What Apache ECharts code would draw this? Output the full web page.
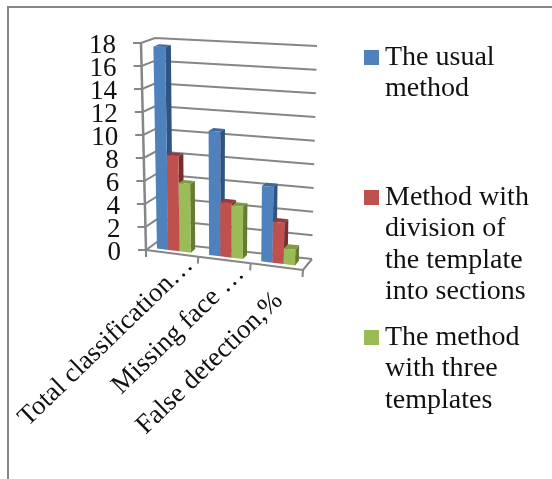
<!DOCTYPE html>
<html>
<head>
<meta charset="utf-8">
<style>html,body{margin:0;padding:0;background:#fff}#main{width:552px;height:479px}</style>
<script src="https://cdn.jsdelivr.net/npm/echarts@6/dist/echarts.min.js"></script>
</head>
<body>
<div id="main"></div>
<script>
var categories = ["Total classification…", "Missing face …", "False detection,%"];
var yTicks = [0, 2, 4, 6, 8, 10, 12, 14, 16, 18];
var usualValues = [17.6, 10.6, 6.3];
var sectionValues = [8.2, 4.6, 3.4];
var threeValues = [5.9, 4.4, 1.3];
var usualLines = ["The usual", "method"];
var sectionLines = ["Method with", "division of", "the template", "into sections"];
var threeLines = ["The method", "with three", "templates"];

var FONT = '"Liberation Serif", serif';
var GRID = {left: 146, top: 43, width: 157, height: 207};
var GRAY = "#868686";
// small hand nudges for the slanted labels
var LABEL_DX = [17, 16, 2];
var LABEL_DY = [8, 10, 30];

// corners of the chart box on screen, [front, back] x [bottom, top] x [left, right]
var box = {
    fbl: [146, 250], fbr: [303, 270], ftl: [141, 43], ftr: [307, 49],
    bbl: [157, 242], bbr: [312, 259], btl: [155, 38], btr: [317, 46]
};

function mix(a, b, t) {
    return [a[0] + (b[0] - a[0]) * t, a[1] + (b[1] - a[1]) * t];
}

// the hidden grid gives the value scale, this tilts it into the 3d box
function project(px, py, d) {
    var u = (px - GRID.left) / GRID.width;
    var v = (GRID.top + GRID.height - py) / GRID.height;
    var front = mix(mix(box.fbl, box.fbr, u), mix(box.ftl, box.ftr, u), v);
    var back = mix(mix(box.bbl, box.bbr, u), mix(box.btl, box.btr, u), v);
    return mix(front, back, d);
}

function line(pts, w) {
    return {
        type: "polyline",
        shape: {points: pts},
        style: {stroke: GRAY, lineWidth: w || 2, fill: null}
    };
}

function renderTick(params, api) {
    var c = api.coord([0, api.value(1)]);
    var py = c[1];
    var l = GRID.left, r = GRID.left + GRID.width;
    var a = project(l, py, 0), b = project(l, py, 1), e = project(r, py, 1);
    return {
        type: "group",
        children: [
            line([[a[0] - 8, a[1]], a, b, e]),
            {
                type: "text",
                style: {
                    x: a[0] - 25, y: a[1] + 3, text: String(api.value(1)),
                    align: "right", verticalAlign: "middle",
                    font: "27px " + FONT, fill: "#111"
                }
            }
        ]
    };
}

function renderCategory(params, api) {
    var i = api.value(0);
    var base = api.coord([i, 0]);
    var band = api.size([1, 0])[0];
    var t0 = project(base[0] + band / 2, base[1], 0);
    var mid = project(base[0], base[1], 0);
    var kids = [line([t0, [t0[0] - 0.5, t0[1] + 7]])];
    if (i === 0) {
        var left = project(base[0] - band / 2, base[1], 0);
        kids.push(line([left, [left[0], left[1] + 7]]));
        kids.push(line([left, t0]));
    }
    if (i === categories.length - 1) {
        var br = project(base[0] + band / 2, base[1], 1);
        kids.push(line([t0, br]));
    }
    if (i > 0) {
        kids.push(line([project(base[0] - band / 2, base[1], 0), t0]));
    }
    kids.push({
        type: "text",
        x: mid[0] + LABEL_DX[i], y: mid[1] + LABEL_DY[i],
        rotation: Math.PI * 44 / 180,
        style: {
            x: 0, y: 0, text: categories[i], align: "right", verticalAlign: "middle",
            font: "27px " + FONT, fill: "#111"
        }
    });
    return {type: "group", children: kids};
}

function renderAxisLine(params, api) {
    var top = api.coord([0, 18]), bottom = api.coord([0, 0]);
    var band = api.size([1, 0])[0];
    return line([project(top[0] - band / 2, top[1], 0), project(bottom[0] - band / 2, bottom[1], 0)], 2.5);
}

function shape(pts, color) {
    return {type: "polygon", shape: {points: pts}, style: {fill: color}};
}

// one skewed bar: front, right side and top faces
function barRenderer(slot, colors) {
    return function (params, api) {
        var top = api.coord([api.value(0), api.value(1)]);
        var base = api.coord([api.value(0), 0]);
        var band = api.size([1, 0])[0];
        var w = band * 0.216;
        var x0 = base[0] + (slot - 1.5) * w - 1.5;
        var x1 = x0 + w;
        var d0 = 0.3, d1 = 0.72;
        var a = project(x0, base[1], d0), b = project(x1, base[1], d0);
        var c = project(x1, top[1], d0), e = project(x0, top[1], d0);
        var f = project(x1, base[1], d1), g = project(x1, top[1], d1), h = project(x0, top[1], d1);
        return {
            type: "group",
            children: [
                shape([b, f, g, c], colors[1]),
                shape([e, c, g, h], colors[2]),
                shape([a, b, c, e], colors[0])
            ]
        };
    };
}

function blankLines(lines) {
    var pad = "";
    for (var i = 1; i < lines.length; i++) pad += "\n";
    return pad + lines.join("\n");
}

function legendFor(name, lines, squareTop) {
    var lh = 31.5, total = 2 * lines.length - 1;
    return {
        data: [name], left: 364, top: squareTop + 7.5 - total * lh / 2 - 4, padding: 0,
        icon: "rect", itemWidth: 15, itemHeight: 15, selectedMode: false,
        formatter: function () { return blankLines(lines); },
        textStyle: {fontFamily: "Liberation Serif", fontSize: 28, lineHeight: lh, color: "#111", padding: [8, 0, 0, 1]}
    };
}

function barSeries(name, values, slot, colors) {
    return {
        name: name, type: "custom", coordinateSystem: "cartesian2d", silent: true,
        itemStyle: {color: colors[0]},
        renderItem: barRenderer(slot, colors),
        encode: {x: 0, y: 1},
        data: values.map(function (v, i) { return [i, v]; }),
        z: 5
    };
}

var myChart = echarts.init(document.getElementById("main"), null, {renderer: "canvas"});

var option = {
    animation: false,
    backgroundColor: "#fff",
    grid: {left: GRID.left, top: GRID.top, width: GRID.width, height: GRID.height},
    xAxis: {type: "category", data: categories, show: false},
    yAxis: {type: "value", min: 0, max: 18, interval: 2, show: false},
    legend: [
        legendFor("The usual method", usualLines, 50),
        legendFor("Method with division of the template into sections", sectionLines, 190),
        legendFor("The method with three templates", threeLines, 330)
    ],
    graphic: [
        {type: "rect", shape: {x: 7, y: 6, width: 2, height: 473}, style: {fill: GRAY}},
        {type: "rect", shape: {x: 7, y: 6, width: 545, height: 2}, style: {fill: GRAY}}
    ],
    series: [
        {
            type: "custom", silent: true, renderItem: renderTick, encode: {x: 0, y: 1}, z: 1,
            data: yTicks.map(function (t) { return [0, t]; })
        },
        {
            type: "custom", silent: true, renderItem: renderCategory, encode: {x: 0, y: 1}, z: 1,
            data: categories.map(function (c, i) { return [i, 0]; })
        },
        {
            type: "custom", silent: true, renderItem: renderAxisLine, encode: {x: 0, y: 1}, z: 2,
            data: [[0, 0]]
        },
        barSeries("The usual method", usualValues, 0, ["#4F81BD", "#2F5482", "#3F6A9E"]),
        barSeries("Method with division of the template into sections", sectionValues, 1, ["#C0504D", "#7A2E2C", "#9A3A38"]),
        barSeries("The method with three templates", threeValues, 2, ["#9BBB59", "#637C32", "#7F9C42"])
    ]
};
myChart.setOption(option);
</script>
</body>
</html>
